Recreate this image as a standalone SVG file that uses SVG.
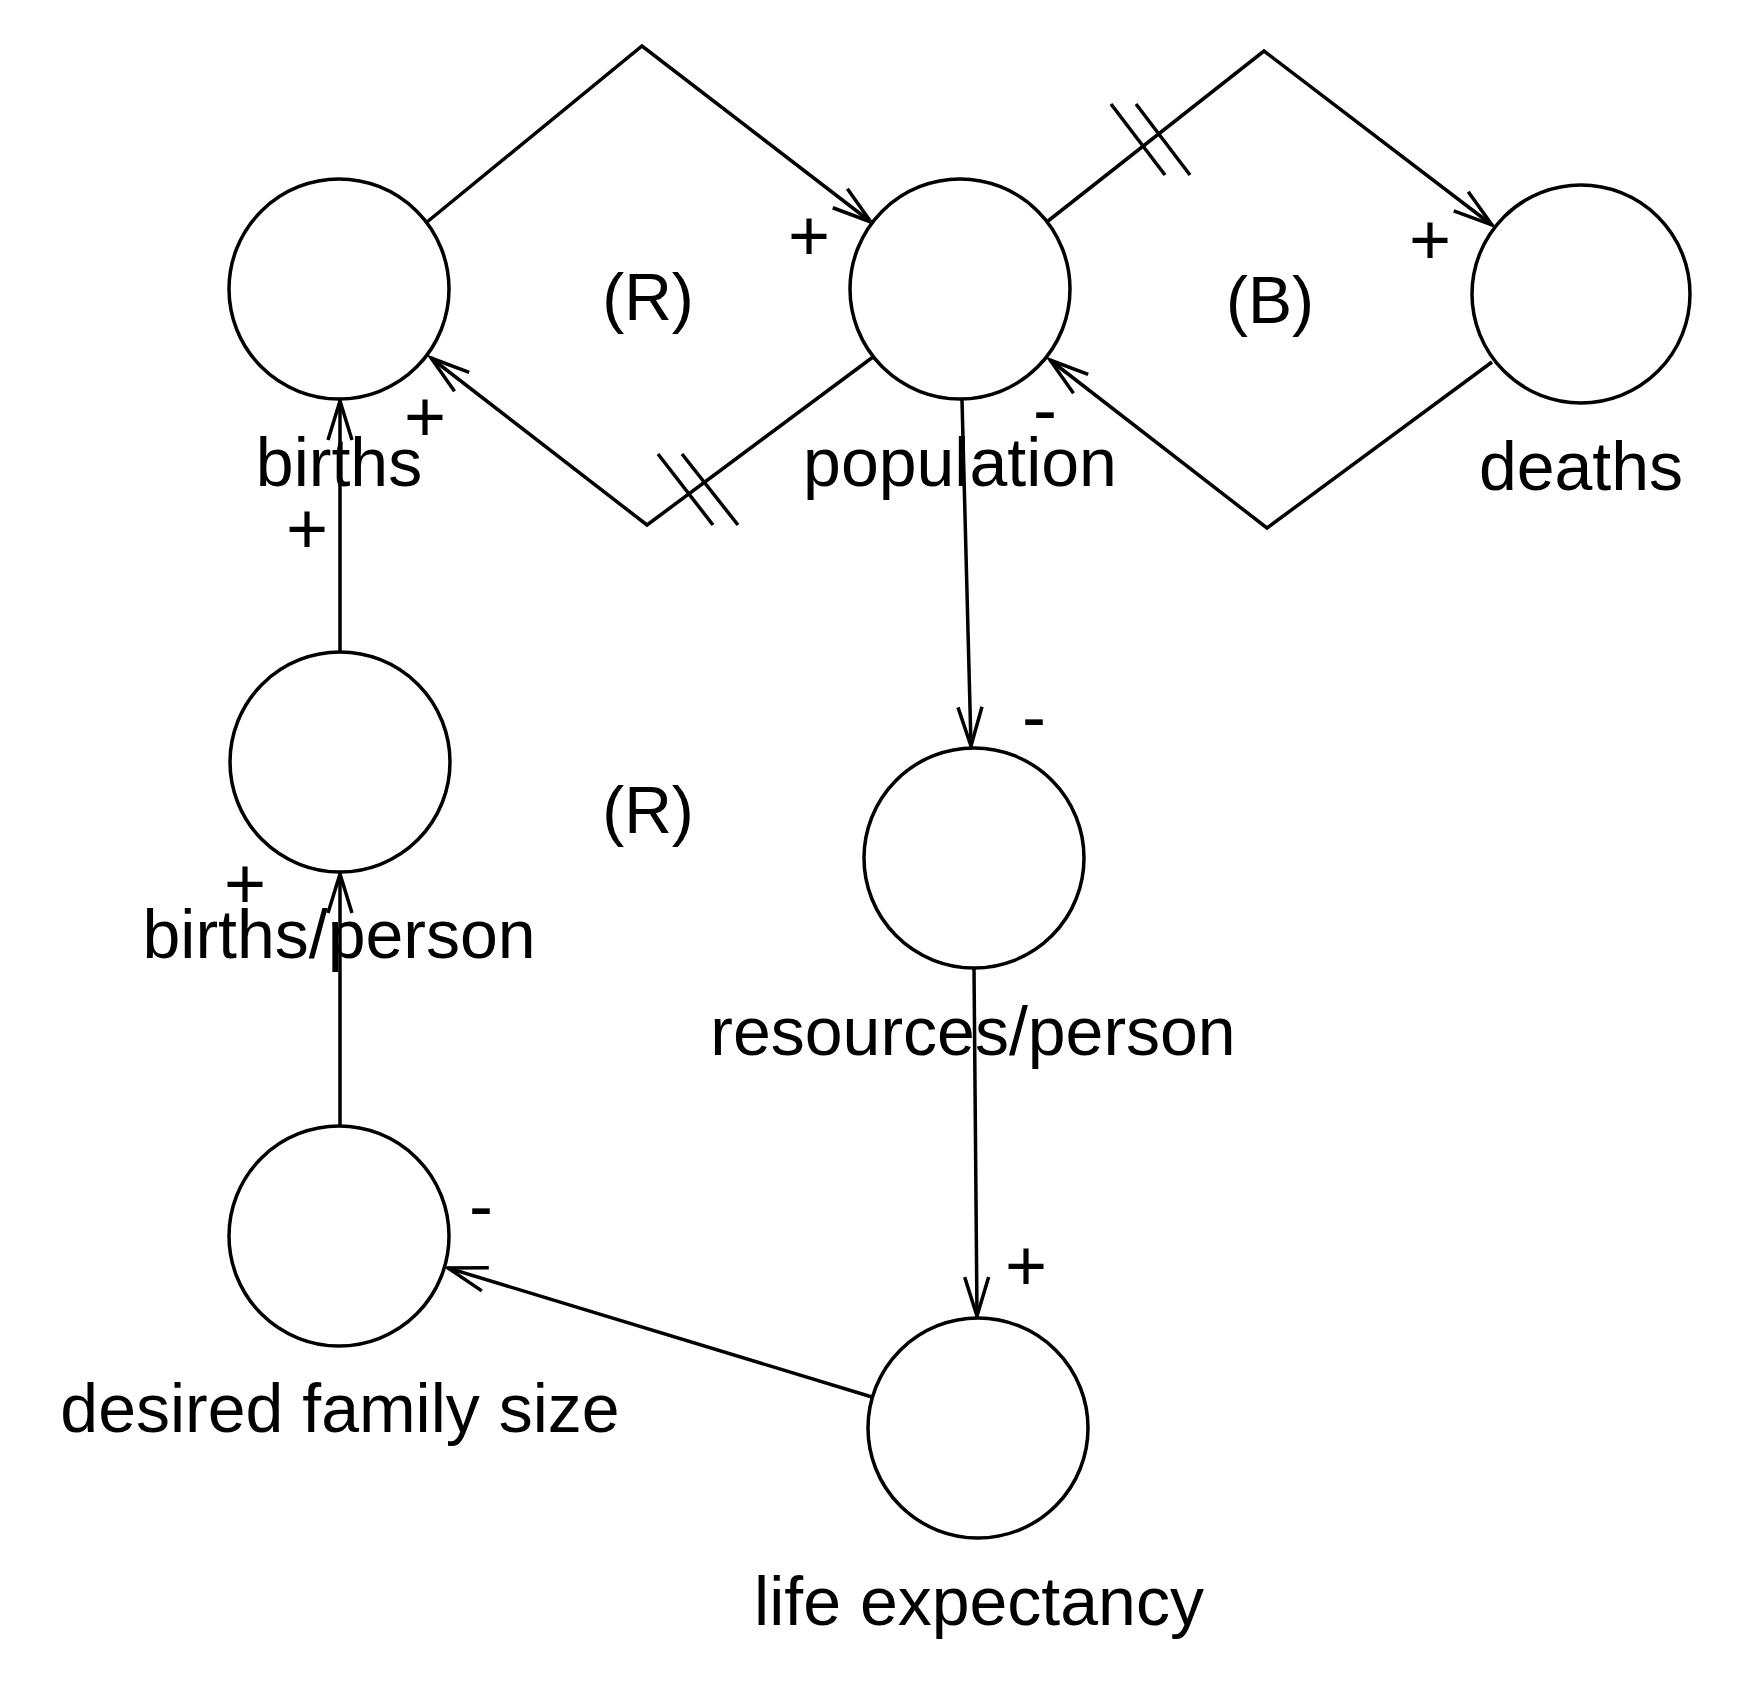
<svg xmlns="http://www.w3.org/2000/svg" width="1749" height="1708" viewBox="0 0 1749 1708">
  <defs>
    <style>
      .node { fill: #fff; stroke: #000; stroke-width: 3.5; }
      .lbl { font-family: "Liberation Sans", Arial, Helvetica, sans-serif; font-size: 68px; fill: #000; text-anchor: middle; }
      .loop { font-family: "Liberation Sans", Arial, Helvetica, sans-serif; font-size: 66px; fill: #000; text-anchor: middle; }
      .sign { font-family: "Liberation Sans", Arial, Helvetica, sans-serif; font-size: 72px; fill: #000; text-anchor: middle; }
      .link { fill: none; stroke: #000; stroke-width: 3.5; }
      .delay { fill: none; stroke: #000; stroke-width: 3.5; }
    </style>
    <marker id="arr" markerUnits="userSpaceOnUse" viewBox="-45 -15 50 30" markerWidth="50" markerHeight="30" refX="0" refY="0" orient="auto" overflow="visible">
      <path d="M-39,-12 L0,0 L-39,12" fill="none" stroke="#000" stroke-width="3.5"/>
    </marker>
  </defs>
  <rect width="1749" height="1708" fill="#fff"/>

  <g id="connectors">
    <polyline class="link" points="427,222 642,46 871,222" marker-end="url(#arr)"/>
    <polyline class="link" points="873,357 647,525 431,358" marker-end="url(#arr)"/>
    <polyline class="link" points="1048,221 1264,51 1492,225" marker-end="url(#arr)"/>
    <polyline class="link" points="1492,362 1267,528 1050,360" marker-end="url(#arr)"/>
    <line class="link" x1="962" y1="400" x2="971" y2="746" marker-end="url(#arr)"/>
    <line class="link" x1="974" y1="968" x2="977" y2="1316" marker-end="url(#arr)"/>
    <line class="link" x1="872" y1="1397" x2="448" y2="1268" marker-end="url(#arr)"/>
    <line class="link" x1="340" y1="652" x2="340" y2="401" marker-end="url(#arr)"/>
    <line class="link" x1="340" y1="1126" x2="340" y2="874" marker-end="url(#arr)"/>
    <g id="delays">
      <line class="delay" x1="658" y1="454" x2="713" y2="525"/>
      <line class="delay" x1="682" y1="454" x2="738" y2="525"/>
      <line class="delay" x1="1111" y1="104" x2="1165" y2="175"/>
      <line class="delay" x1="1136" y1="104" x2="1190" y2="175"/>
    </g>
    <g id="polarities">
      <text class="sign" x="809" y="260">+</text>
      <text class="sign" x="425" y="441">+</text>
      <text class="sign" x="307" y="553">+</text>
      <text class="sign" x="1045" y="434">-</text>
      <text class="sign" x="1430" y="264">+</text>
      <text class="sign" x="1034" y="741">-</text>
      <text class="sign" x="245" y="908">+</text>
      <text class="sign" x="481" y="1230">-</text>
      <text class="sign" x="1026" y="1290">+</text>
    </g>
  </g>

  <g id="loops">
    <text class="loop" x="648" y="320">(R)</text>
    <text class="loop" x="1270" y="323">(B)</text>
    <text class="loop" x="648" y="833">(R)</text>
  </g>

  <g id="births">
    <circle class="node" cx="339" cy="289" r="110"/>
    <text class="lbl" x="339" y="486">births</text>
  </g>
  <g id="population">
    <circle class="node" cx="960" cy="289" r="110"/>
    <text class="lbl" x="960" y="486">population</text>
  </g>
  <g id="deaths">
    <circle class="node" cx="1581" cy="294" r="109"/>
    <text class="lbl" x="1581" y="490">deaths</text>
  </g>
  <g id="births-person">
    <circle class="node" cx="340" cy="762" r="110"/>
    <text class="lbl" x="339" y="958">births/person</text>
  </g>
  <g id="resources-person">
    <circle class="node" cx="974" cy="858" r="110"/>
    <text class="lbl" x="973" y="1055">resources/person</text>
  </g>
  <g id="desired-family-size">
    <circle class="node" cx="339" cy="1236" r="110"/>
    <text class="lbl" x="340" y="1432">desired family size</text>
  </g>
  <g id="life-expectancy">
    <circle class="node" cx="978" cy="1428" r="110"/>
    <text class="lbl" x="979" y="1625">life expectancy</text>
  </g>
</svg>
